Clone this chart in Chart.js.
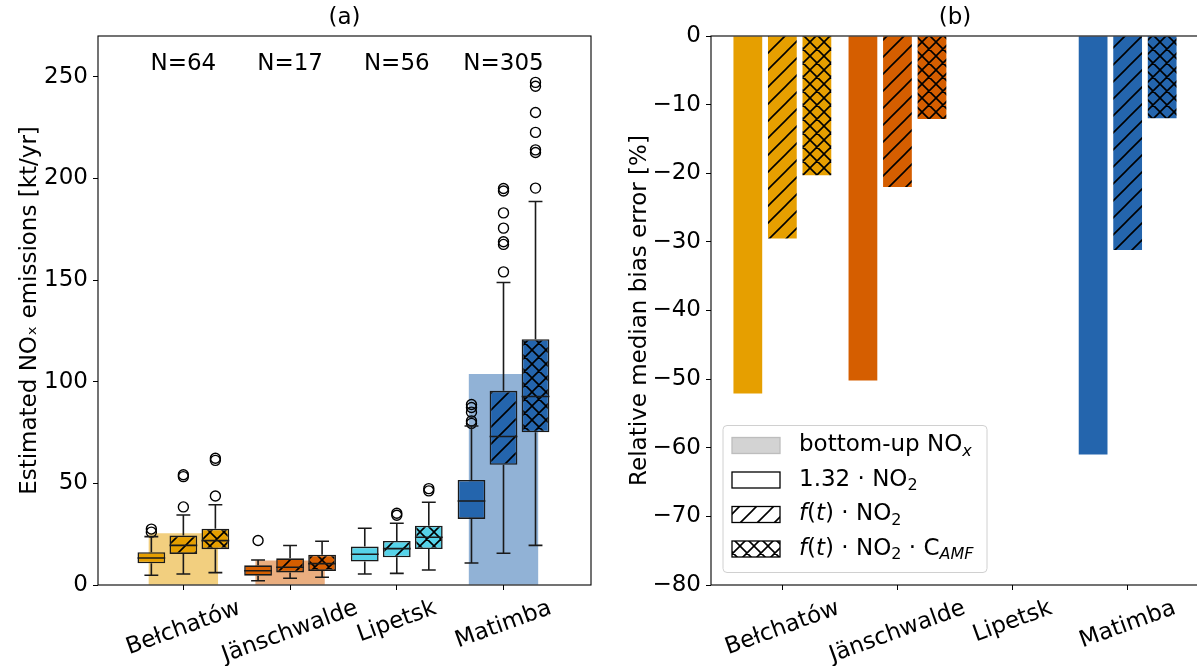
<!DOCTYPE html>
<html>
<head>
<meta charset="utf-8">
<script src="https://cdn.jsdelivr.net/npm/chart.js@4.4.1/dist/chart.umd.min.js"></script>
<style>
  html, body { margin: 0; padding: 0; background: #fff; overflow: hidden; width: 1197px; height: 666px; }
  canvas { position: absolute; top: 0; }
  #boxChart { left: 0; }
  #biasChart { left: 600px; }
</style>
</head>
<body>
<canvas id="boxChart" width="600" height="666"></canvas>
<canvas id="biasChart" width="600" height="666"></canvas>
<script>
// ---- data ----
const categories = ['Bełchatów', 'Jänschwalde', 'Lipetsk', 'Matimba'];
const sampleSizes = [64, 17, 56, 305];
const bottomUp = [25.5, 12.0, null, 103.8];

// box stats per plant: [low whisker, q1, median, q3, high whisker]
const box132 = [[4.8, 10.7, 13.3, 16.1, 23.8], [2.1, 4.6, 7.0, 9.7, 12.3], [5.4, 11.5, 15.1, 18.9, 27.9], [10.8, 32.5, 41.3, 51.7, 78.2]];
const boxFt = [[5.4, 15.3, 19.5, 24.3, 34.4], [3.3, 6.2, 8.7, 13.1, 19.4], [5.7, 13.6, 17.9, 21.7, 30.4], [15.6, 59.1, 73.0, 95.5, 148.8]];
const boxFtAmf = [[6.1, 17.6, 21.8, 27.7, 39.5], [3.8, 6.9, 10.5, 14.9, 21.5], [7.4, 17.7, 23.5, 29.2, 40.7], [19.5, 75.1, 92.7, 120.9, 188.6]];

const out132 = [[26.0, 27.5], [21.9], [], [79.5, 80.7, 85.0, 87.3, 88.8]];
const outFt = [[38.4, 53.3, 54.2], [], [34.3, 35.3], [154.0, 167.5, 168.8, 175.5, 183.0, 193.8, 195.0]];
const outFtAmf = [[43.8, 61.3, 62.3], [], [46.3, 47.4], [195.2, 212.7, 214.0, 222.6, 232.4, 245.3, 247.2]];

// relative median bias error [%]
const bias132 = [-52.1, -50.2, null, -61.0];
const biasFt = [-29.5, -22.0, null, -31.2];
const biasFtAmf = [-20.3, -12.1, null, -12.0];

const emisTicks = [0, 50, 100, 150, 200, 250];
const biasTicks = [0, -10, -20, -30, -40, -50, -60, -70, -80];

// ---- styles ----
const colors = ['#e69f00', '#d55e00', '#56d3e9', '#2465ad'];
const bgColors = ['rgba(230,159,0,0.5)', 'rgba(213,94,0,0.5)', 'rgba(86,211,233,0.5)', 'rgba(36,101,173,0.5)'];
const FONT = 'DejaVu Sans';
const FS = 23;
Chart.defaults.font.family = FONT;
Chart.defaults.font.size = FS;
Chart.defaults.color = '#000';

function hatch(color, kind) {
  const s = kind === 'x' ? 14 : 17;
  const c = document.createElement('canvas');
  c.width = c.height = s;
  const g = c.getContext('2d');
  g.fillStyle = color;
  g.fillRect(0, 0, s, s);
  if (kind) {
    g.strokeStyle = '#000';
    g.lineWidth = 1.6;
    g.beginPath();
    g.moveTo(-2, s + 2); g.lineTo(s + 2, -2);
    g.moveTo(-2, 2); g.lineTo(2, -2);
    g.moveTo(s - 2, s + 2); g.lineTo(s + 2, s - 2);
    if (kind === 'x') {
      g.moveTo(-2, -2); g.lineTo(s + 2, s + 2);
      g.moveTo(s - 2, -2); g.lineTo(s + 2, 2);
      g.moveTo(-2, s - 2); g.lineTo(2, s + 2);
    }
    g.stroke();
  }
  return g.createPattern(c, 'repeat');
}
const kinds = [null, '/', 'x'];
const boxSeries = [box132, boxFt, boxFtAmf];
const outSeries = [out132, outFt, outFtAmf];
const offsets = [-0.3, 0, 0.3];

const tickGrid = { display: true, offset: false, drawOnChartArea: false, drawTicks: true, tickLength: 5, color: '#000', lineWidth: 1 };

const framePlugin = {
  id: 'frame',
  afterDraw(chart) {
    const { ctx, chartArea: a } = chart;
    ctx.save();
    ctx.strokeStyle = '#000';
    ctx.lineWidth = 1.1;
    ctx.strokeRect(a.left, a.top, a.right - a.left, a.bottom - a.top);
    ctx.restore();
  }
};

const tiltLabels = {
  id: 'tilt',
  afterDraw(chart) {
    const ctx = chart.ctx, x = chart.scales.x, top = chart.chartArea.bottom + 10;
    const ang = 20 * Math.PI / 180, h = FS * 1.17;
    ctx.save();
    ctx.font = FS + 'px "' + FONT + '"';
    ctx.fillStyle = '#000';
    ctx.textAlign = 'center';
    ctx.textBaseline = 'middle';
    categories.forEach((name, i) => {
      const w = ctx.measureText(name).width;
      const bh = w * Math.sin(ang) + h * Math.cos(ang);
      ctx.save();
      ctx.translate(x.getPixelForValue(i), top + bh / 2);
      ctx.rotate(-ang);
      ctx.fillText(name, 0, 0);
      ctx.restore();
    });
    ctx.restore();
  }
};

const whiskers = {
  id: 'whiskers',
  afterDatasetsDraw(chart) {
    const ctx = chart.ctx, y = chart.scales.y;
    ctx.save();
    ctx.strokeStyle = '#1a1a1a';
    ctx.lineWidth = 1.6;
    boxSeries.forEach((stats, s) => {
      const meta = chart.getDatasetMeta(s + 1);
      meta.data.forEach((bar, i) => {
        const [lo, q1, med, q3, hi] = stats[i];
        const half = bar.width / 2, cap = bar.width / 4;
        ctx.beginPath();
        ctx.moveTo(bar.x - half, y.getPixelForValue(med)); ctx.lineTo(bar.x + half, y.getPixelForValue(med));
        ctx.moveTo(bar.x, y.getPixelForValue(q1)); ctx.lineTo(bar.x, y.getPixelForValue(lo));
        ctx.moveTo(bar.x, y.getPixelForValue(q3)); ctx.lineTo(bar.x, y.getPixelForValue(hi));
        ctx.moveTo(bar.x - cap, y.getPixelForValue(lo)); ctx.lineTo(bar.x + cap, y.getPixelForValue(lo));
        ctx.moveTo(bar.x - cap, y.getPixelForValue(hi)); ctx.lineTo(bar.x + cap, y.getPixelForValue(hi));
        ctx.stroke();
      });
    });
    ctx.restore();
  }
};

const countLabels = {
  id: 'counts',
  afterDraw(chart) {
    const ctx = chart.ctx, x = chart.scales.x, y = chart.scales.y;
    ctx.save();
    ctx.font = FS + 'px "' + FONT + '"';
    ctx.fillStyle = '#000';
    ctx.textAlign = 'center';
    ctx.textBaseline = 'middle';
    sampleSizes.forEach((n, i) => ctx.fillText('N=' + n, x.getPixelForValue(i), y.getPixelForValue(256)));
    ctx.restore();
  }
};

function drawRich(ctx, x, y, segs) {
  segs.forEach(sg => {
    ctx.font = (sg.it ? 'italic ' : '') + (sg.sub ? '16px' : FS + 'px') + ' "' + FONT + '"';
    ctx.fillText(sg.t, x, y + (sg.sub ? 6 : 0));
    x += ctx.measureText(sg.t).width;
  });
}

const legendItems = [
  { fill: '#d3d3d3', edge: '#bdbdbd', text: [{ t: 'bottom-up NO' }, { t: 'x', it: 1, sub: 1 }] },
  { fill: '#fff', edge: '#000', text: [{ t: '1.32 · NO' }, { t: '2', sub: 1 }] },
  { fill: hatch('#fff', '/'), edge: '#000', text: [{ t: 'f', it: 1 }, { t: '(' }, { t: 't', it: 1 }, { t: ') · NO' }, { t: '2', sub: 1 }] },
  { fill: hatch('#fff', 'x'), edge: '#000', text: [{ t: 'f', it: 1 }, { t: '(' }, { t: 't', it: 1 }, { t: ') · NO' }, { t: '2', sub: 1 }, { t: ' · C' }, { t: 'AMF', it: 1, sub: 1 }] }
];

const boxLegend = {
  id: 'boxLegend',
  afterDraw(chart) {
    const ctx = chart.ctx, a = chart.chartArea;
    const w = 264, h = 147, left = a.left + 12, top = a.bottom - 12.5 - h;
    ctx.save();
    ctx.beginPath();
    ctx.roundRect(left, top, w, h, 4);
    ctx.fillStyle = 'rgba(255,255,255,0.8)';
    ctx.fill();
    ctx.strokeStyle = '#d0d0d0';
    ctx.lineWidth = 1;
    ctx.stroke();
    legendItems.forEach((it, k) => {
      const cy = top + 20 + k * 34.5;
      ctx.fillStyle = it.fill;
      ctx.fillRect(left + 9, cy - 8, 48, 16);
      ctx.strokeStyle = it.edge;
      ctx.lineWidth = 1.3;
      ctx.strokeRect(left + 9, cy - 8, 48, 16);
      ctx.fillStyle = '#000';
      ctx.textAlign = 'left';
      ctx.textBaseline = 'middle';
      drawRich(ctx, left + 76, cy, it.text);
    });
    ctx.restore();
  }
};

// ---- (a) box plots ----
new Chart(document.getElementById('boxChart'), {
  type: 'bar',
  data: {
    datasets: [
      {
        data: bottomUp.map((v, i) => ({ x: i, y: v })),
        backgroundColor: bgColors,
        grouped: false, categoryPercentage: 1, barPercentage: 0.65, order: 3
      },
      ...boxSeries.map((stats, s) => ({
        data: stats.map((b, i) => ({ x: i, y: [b[1], b[3]] })),
        backgroundColor: colors.map(c => kinds[s] ? hatch(c, kinds[s]) : c),
        borderColor: '#1a1a1a', borderWidth: 1.6, borderSkipped: false,
        categoryPercentage: 0.9, barPercentage: 0.867, order: 2
      })),
      ...outSeries.map((outs, s) => ({
        type: 'scatter',
        data: outs.flatMap((vals, i) => vals.map(v => ({ x: i + offsets[s], y: v }))),
        pointRadius: 5, pointBorderColor: '#000', pointBackgroundColor: 'rgba(0,0,0,0)',
        pointBorderWidth: 1.4, order: 1
      }))
    ]
  },
  options: {
    responsive: false, animation: false, devicePixelRatio: 1,
    layout: { padding: { left: 0, right: 9, top: 0, bottom: 0 } },
    plugins: {
      legend: { display: false }, tooltip: { enabled: false },
      title: { display: true, text: '(a)', fullSize: false, color: '#000', font: { size: FS, weight: 'normal' }, padding: { top: 4, bottom: 4.4 } }
    },
    scales: {
      x: {
        type: 'linear', min: -0.8, max: 3.82, offset: false,
        afterBuildTicks: s => { s.ticks = categories.map((c, i) => ({ value: i })); },
        afterFit: s => { s.height = 81; },
        ticks: { display: false }, grid: tickGrid, border: { display: false }
      },
      y: {
        min: 0, max: 270,
        afterBuildTicks: s => { s.ticks = emisTicks.map(v => ({ value: v })); },
        afterFit: s => { s.width = 98; },
        ticks: { color: '#000', font: { size: FS }, padding: 5 },
        grid: tickGrid, border: { display: false },
        title: { display: true, text: 'Estimated NOₓ emissions [kt/yr]', color: '#000', font: { size: FS }, padding: { top: 16, bottom: 0 } }
      }
    }
  },
  plugins: [whiskers, framePlugin, tiltLabels, countLabels]
});

// ---- (b) bias bars ----
const biasSeries = [bias132, biasFt, biasFtAmf];
new Chart(document.getElementById('biasChart'), {
  type: 'bar',
  data: {
    datasets: biasSeries.map((vals, s) => ({
      data: vals.map((v, i) => ({ x: i, y: v })),
      backgroundColor: colors.map(c => kinds[s] ? hatch(c, kinds[s]) : c),
      borderWidth: 0, categoryPercentage: 0.9, barPercentage: 0.833
    }))
  },
  options: {
    responsive: false, animation: false, devicePixelRatio: 1,
    layout: { padding: { left: 0, right: 1, top: 0, bottom: 0 } },
    plugins: {
      legend: { display: false }, tooltip: { enabled: false },
      title: { display: true, text: '(b)', fullSize: false, color: '#000', font: { size: FS, weight: 'normal' }, padding: { top: 4, bottom: 4.4 } }
    },
    scales: {
      x: {
        type: 'linear', min: -0.62, max: 3.62, offset: false,
        afterBuildTicks: s => { s.ticks = categories.map((c, i) => ({ value: i })); },
        afterFit: s => { s.height = 81; },
        ticks: { display: false }, grid: tickGrid, border: { display: false }
      },
      y: {
        min: -80, max: 0,
        afterBuildTicks: s => { s.ticks = biasTicks.map(v => ({ value: v })); },
        afterFit: s => { s.width = 111; },
        ticks: { color: '#000', font: { size: FS }, padding: 5, callback: v => String(v).replace('-', '−') },
        grid: tickGrid, border: { display: false },
        title: { display: true, text: 'Relative median bias error [%]', color: '#000', font: { size: FS }, padding: { top: 26, bottom: 0 } }
      }
    }
  },
  plugins: [framePlugin, tiltLabels, boxLegend]
});
</script>
</body>
</html>
